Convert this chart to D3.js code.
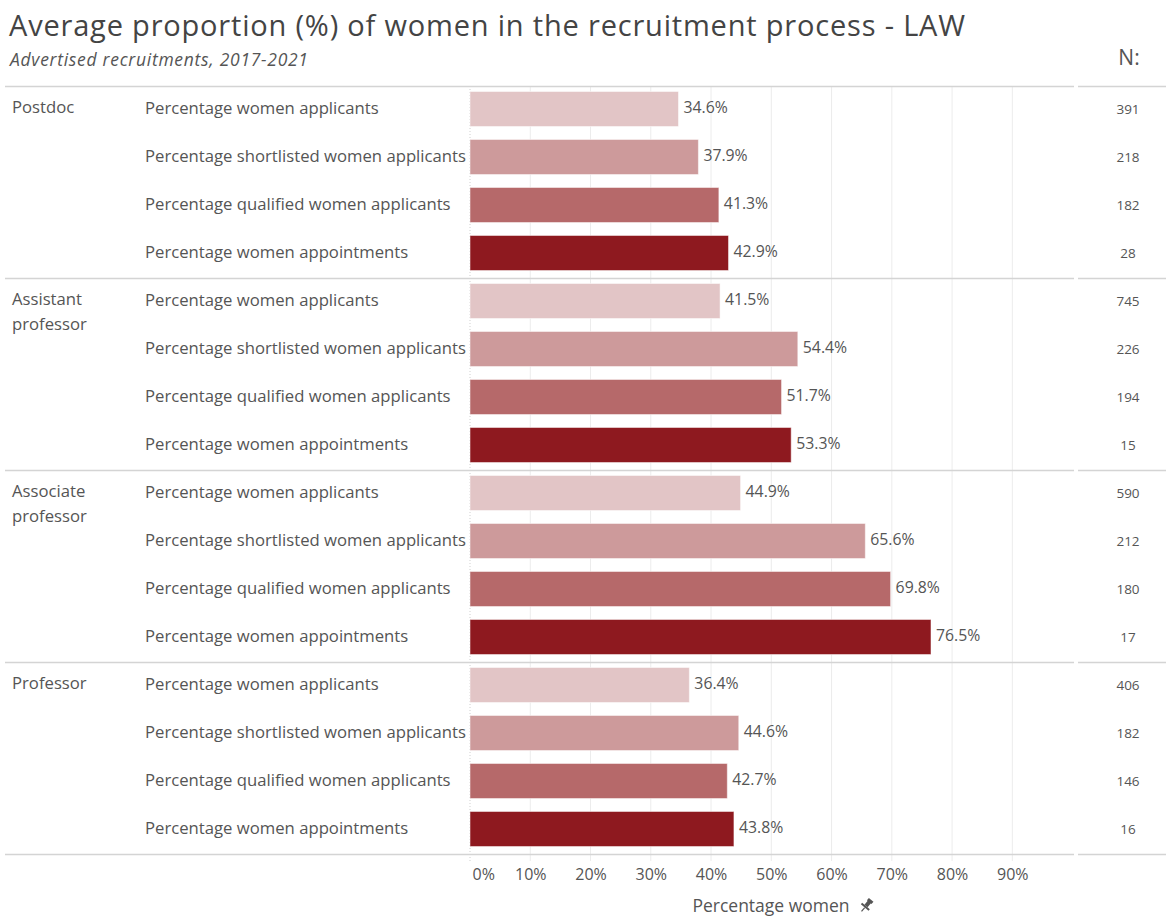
<!DOCTYPE html>
<html>
<head>
<meta charset="utf-8">
<script src="https://cdn.jsdelivr.net/npm/d3@7"></script>
<style>
  html, body { margin: 0; padding: 0; background: #fff; }
  svg text { font-family: "Open Sans", "Noto Sans", sans-serif; }
</style>
</head>
<body>
<svg id="chart" width="1166" height="916"></svg>
<script>
// ---- DATA ----
const groups = ["Postdoc", "Assistant professor", "Associate professor", "Professor"];
const groupLabelLines = [["Postdoc"], ["Assistant", "professor"], ["Associate", "professor"], ["Professor"]];
const measures = [
  "Percentage women applicants",
  "Percentage shortlisted women applicants",
  "Percentage qualified women applicants",
  "Percentage women appointments"
];
const postdocValues = [34.6, 37.9, 41.3, 42.9];
const assistantValues = [41.5, 54.4, 51.7, 53.3];
const associateValues = [44.9, 65.6, 69.8, 76.5];
const professorValues = [36.4, 44.6, 42.7, 43.8];
const postdocN = [391, 218, 182, 28];
const assistantN = [745, 226, 194, 15];
const associateN = [590, 212, 180, 17];
const professorN = [406, 182, 146, 16];
const tickValues = [0, 10, 20, 30, 40, 50, 60, 70, 80, 90];
const tickLabels = ["0%", "10%", "20%", "30%", "40%", "50%", "60%", "70%", "80%", "90%"];
const measureColors = ["#e2c5c6", "#cd9a9b", "#b6696a", "#8e191f"];

const title = "Average proportion (%) of women in the recruitment process - LAW";
const subtitle = "Advertised recruitments, 2017-2021";
const nHeader = "N:";
const axisTitle = "Percentage women";

const valuesByGroup = [postdocValues, assistantValues, associateValues, professorValues];
const nByGroup = [postdocN, assistantN, associateN, professorN];
const rows = [];
groups.forEach((g, gi) => measures.forEach((m, mi) => rows.push({
  group: g, measure: m, mi, value: valuesByGroup[gi][mi], n: nByGroup[gi][mi]
})));

// ---- LAYOUT ----
const svg = d3.select("#chart");
const textColor = "#555";
const plotTop = 86, plotBottom = 854;
const x = d3.scaleLinear().domain([0, 100]).range([470, 1072.6]);
const yGroup = d3.scaleBand().domain(groups).range([plotTop, plotBottom]);
const yInner = d3.scaleBand().domain(measures).range([0, yGroup.bandwidth()])
  .paddingInner(0.27).paddingOuter(0.135);

// title
svg.append("text").attr("x", 9).attr("y", 36).attr("font-size", 29).attr("fill", "#444")
  .attr("textLength", 956).attr("lengthAdjust", "spacing")
  .text(title);
svg.append("text").attr("x", 10).attr("y", 66).attr("font-size", 17.5).attr("font-style", "italic")
  .attr("textLength", 298).attr("lengthAdjust", "spacing")
  .attr("fill", "#555").text(subtitle);
svg.append("text").attr("x", 1129).attr("y", 65).attr("text-anchor", "middle").attr("font-size", 21)
  .attr("fill", "#555").text(nHeader);

// gridlines
svg.append("g").selectAll("line").data(tickValues.filter(d => d > 0)).join("line")
  .attr("x1", d => x(d)).attr("x2", d => x(d))
  .attr("y1", plotTop).attr("y2", plotBottom + 7)
  .attr("stroke", "#ececec").attr("stroke-width", 1);
svg.append("line").attr("x1", x(0)).attr("x2", x(0)).attr("y1", plotTop).attr("y2", plotBottom + 7)
  .attr("stroke", "#cfcfcf").attr("stroke-dasharray", "1,2");

// separators
const sepY = [plotTop].concat(groups.map(g => yGroup(g) + yGroup.bandwidth()));
svg.append("g").selectAll("line").data(sepY).join("line")
  .attr("x1", 5).attr("x2", 1074).attr("y1", d => d + 0.5).attr("y2", d => d + 0.5)
  .attr("stroke", "#d4d4d4").attr("stroke-width", 1.3);
svg.append("g").selectAll("line").data(sepY).join("line")
  .attr("x1", 1078).attr("x2", 1166).attr("y1", d => d + 0.5).attr("y2", d => d + 0.5)
  .attr("stroke", "#d4d4d4").attr("stroke-width", 1.3);

// group labels
groups.forEach((g, gi) => {
  const t = svg.append("text").attr("x", 12).attr("y", yGroup(g) + 27)
    .attr("font-size", 16.7).attr("fill", textColor);
  groupLabelLines[gi].forEach((line, li) => {
    t.append("tspan").attr("x", 12).attr("dy", li === 0 ? 0 : 25).text(line);
  });
});

// row labels
svg.append("g").selectAll("text").data(rows).join("text")
  .attr("x", 145)
  .attr("y", d => yGroup(d.group) + yInner(d.measure) + yInner.bandwidth() / 2 - 2)
  .attr("dy", "0.35em")
  .attr("font-size", 16.7).attr("fill", textColor)
  .text(d => d.measure);

// bars
svg.append("g").selectAll("rect").data(rows).join("rect")
  .attr("x", x(0))
  .attr("y", d => yGroup(d.group) + yInner(d.measure) - 1)
  .attr("width", d => x(d.value) - x(0))
  .attr("height", yInner.bandwidth())
  .attr("fill", d => measureColors[d.mi])
  .attr("stroke", "rgba(255,255,255,0.5)").attr("stroke-width", 1);

// value labels
svg.append("g").selectAll("text").data(rows).join("text")
  .attr("x", d => x(d.value) + 5)
  .attr("y", d => yGroup(d.group) + yInner(d.measure) + yInner.bandwidth() / 2 - 3)
  .attr("dy", "0.35em")
  .attr("font-size", 15.8).attr("fill", textColor)
  .text(d => d.value.toFixed(1) + "%");

// N column
svg.append("g").selectAll("text").data(rows).join("text")
  .attr("x", 1128)
  .attr("y", d => yGroup(d.group) + yInner(d.measure) + yInner.bandwidth() / 2 - 1)
  .attr("dy", "0.35em").attr("text-anchor", "middle")
  .attr("font-size", 13.5).attr("fill", textColor)
  .text(d => d.n);

// x axis
const axis = d3.axisBottom(x).tickValues(tickValues).tickFormat((d, i) => tickLabels[i]).tickSize(0).tickPadding(0);
const ax = svg.append("g").attr("transform", `translate(0, ${plotBottom + 26})`).call(axis);
ax.select(".domain").remove();
ax.selectAll("text").attr("font-size", 16).attr("fill", textColor).attr("dy", 0)
  .attr("font-family", "'Open Sans', sans-serif")
  .attr("text-anchor", d => d === 0 ? "start" : "middle")
  .attr("dx", d => d === 0 ? 2 : 0);

// axis title
svg.append("text").attr("x", 771).attr("y", 912).attr("text-anchor", "middle")
  .attr("font-size", 17.5).attr("fill", textColor).text(axisTitle);
// pin icon
const pin = svg.append("g").attr("transform", "translate(866,906) rotate(40)").attr("fill", "#555");
pin.append("rect").attr("x", -3).attr("y", -8).attr("width", 6).attr("height", 3);
pin.append("rect").attr("x", -2).attr("y", -6).attr("width", 4).attr("height", 6);
pin.append("rect").attr("x", -5).attr("y", 0).attr("width", 10).attr("height", 2);
pin.append("rect").attr("x", -0.6).attr("y", 2).attr("width", 1.2).attr("height", 5);
</script>
</body>
</html>
